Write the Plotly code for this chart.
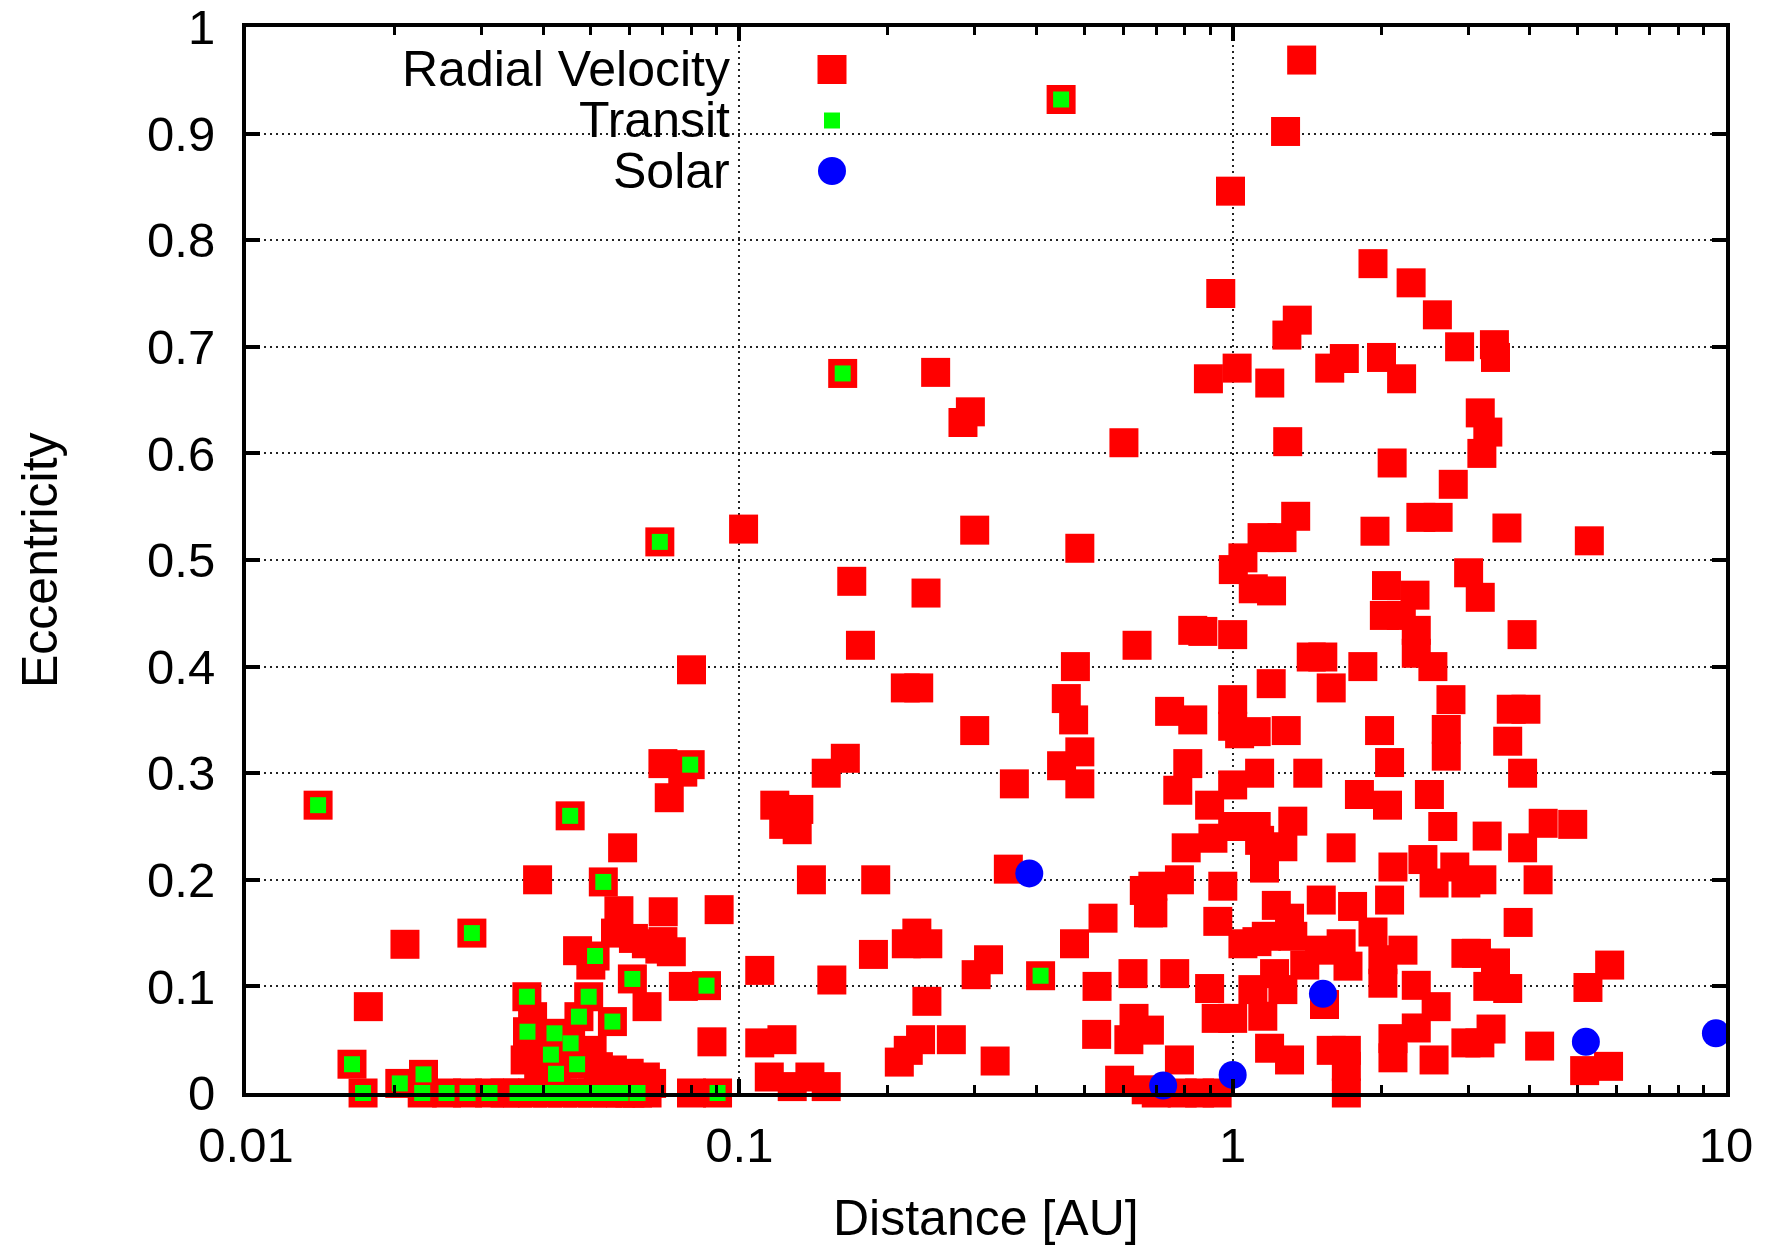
import plotly.graph_objects as go

# ---------------- data ----------------
rv_dist = [
    1.38, 1.28, 0.99, 0.449, 1.925, 2.30, 0.946, 2.60, 1.352, 1.288,
    2.884, 3.393, 3.41, 1.684, 1.573, 2.003, 2.20, 0.893, 1.021, 1.189,
    0.162, 0.250, 0.294, 0.284, 3.176, 3.29, 3.20, 1.293, 0.602, 2.105,
    2.80, 0.102, 0.300, 0.069, 0.490, 1.342, 1.147, 1.259, 1.943, 2.407,
    2.609, 3.597, 5.284, 1.003, 1.049, 3.008, 1.199, 1.101, 2.05, 2.342,
    3.176, 0.169, 0.239,
    # 0.1 - 0.7 AU
    0.176, 0.640, 0.480, 0.217, 0.231, 0.460, 0.476, 0.300, 0.490, 0.450,
    0.490, 0.361, 0.164, 0.150, 0.118, 0.132, 0.123, 0.131, 0.140, 0.189,
    0.351, 0.662, 0.675, 0.546, 0.478, 0.229, 0.218, 0.241, 0.187, 0.110,
    0.154, 0.320, 0.302, 0.408, 0.531, 0.628, 0.240, 0.110, 0.122, 0.233,
    0.220, 0.211, 0.269, 0.330, 0.530, 0.631, 0.616, 0.115, 0.139, 0.150,
    0.128, 0.590, 0.668,
    # 0.7 - 3 AU
    0.830, 0.870, 1.0, 2.197, 2.356, 2.356, 2.546, 2.03, 1.197, 1.443,
    1.523, 1.584, 1.836, 2.77, 0.745, 0.830, 1.0, 1.0, 1.033, 1.116,
    1.284, 1.985, 2.71, 2.71, 2.08, 0.811, 0.774, 1.0, 1.134, 1.42,
    1.807, 2.06, 2.505, 2.666, 0.898, 1.0, 1.116, 0.805, 0.912, 1.134,
    1.264, 1.324, 1.659, 1.16, 0.78, 0.955, 2.113, 2.43, 2.56, 2.82,
    2.97, 0.689, 0.689, 2.08, 1.75, 1.512, 1.226, 0.933, 1.304, 1.925,
    1.049, 1.17, 1.324, 1.50, 1.659, 2.214, 2.016, 2.97, 0.763, 0.898,
    1.216, 1.713, 2.016, 2.356, 1.099, 1.264, 1.535, 0.926, 1.0, 1.151,
    2.585, 2.356, 2.113, 1.188, 1.304, 1.584, 1.70, 1.70, 1.70, 2.113,
    2.56, 0.78, 2.97, 0.678, 0.79, 0.857, 0.93, 0.70, 1.12, 1.40,
    # 3 - 10 AU
    3.86, 3.67, 3.93, 3.61, 3.87, 3.28, 4.26, 4.89, 3.87, 3.2,
    4.16, 3.79, 3.12, 3.41, 3.29, 3.61, 5.81, 5.25, 3.34, 3.17,
    4.19, 5.17, 5.78,
    # below 0.1 AU
    0.014, 0.070, 0.0795, 0.0768, 0.0721, 0.0454, 0.058, 0.039, 0.053, 0.057,
    0.0701, 0.091, 0.0561, 0.061, 0.070, 0.0648, 0.069, 0.0728, 0.047, 0.051,
    0.050, 0.021, 0.0287, 0.0177, 0.0607, 0.065, 0.0858, 0.077, 0.088, 0.080,
    0.0371, 0.0381, 0.0372, 0.0422, 0.0415, 0.0469, 0.0425, 0.0473, 0.0495, 0.0455,
    0.0553, 0.0368, 0.0503, 0.0598, 0.0645, 0.0553, 0.0664, 0.0392, 0.0518, 0.0164,
    0.0205, 0.0229,
    0.01727, 0.02276, 0.0255, 0.02812, 0.03116, 0.0335, 0.03551, 0.03808, 0.04086, 0.04381,
    0.04699, 0.0504, 0.05405, 0.05742, 0.060, 0.06217, 0.065, 0.080, 0.09033,
]
rv_ecc = [
    0.969, 0.902, 0.846, 0.932, 0.778, 0.760, 0.750, 0.730, 0.725, 0.711,
    0.700, 0.702, 0.690, 0.689, 0.680, 0.690, 0.670, 0.670, 0.680, 0.666,
    0.675, 0.676, 0.639, 0.629, 0.638, 0.620, 0.600, 0.611, 0.610, 0.591,
    0.571, 0.529, 0.528, 0.517, 0.511, 0.541, 0.521, 0.521, 0.527, 0.540,
    0.540, 0.530, 0.518, 0.491, 0.502, 0.488, 0.471, 0.473, 0.476, 0.467,
    0.465, 0.480, 0.469,
    0.420, 0.420, 0.400, 0.380, 0.380, 0.370, 0.350, 0.340, 0.320, 0.307,
    0.290, 0.290, 0.314, 0.300, 0.270, 0.266, 0.252, 0.247, 0.200, 0.200,
    0.210, 0.190, 0.169, 0.164, 0.140, 0.150, 0.140, 0.140, 0.130, 0.115,
    0.106, 0.125, 0.111, 0.110, 0.100, 0.112, 0.086, 0.047, 0.050, 0.050,
    0.040, 0.029, 0.050, 0.030, 0.055, 0.070, 0.050, 0.015, 0.015, 0.006,
    0.006, 0.012, 0.003,
    0.434, 0.433, 0.430, 0.448, 0.434, 0.4125, 0.400, 0.448, 0.384, 0.409,
    0.409, 0.380, 0.400, 0.369, 0.358, 0.350, 0.369, 0.344, 0.337, 0.339,
    0.340, 0.340, 0.341, 0.316, 0.310, 0.309, 0.284, 0.289, 0.300, 0.300,
    0.280, 0.270, 0.280, 0.250, 0.270, 0.250, 0.250, 0.230, 0.239, 0.237,
    0.231, 0.255, 0.230, 0.211, 0.200, 0.194, 0.212, 0.219, 0.197, 0.212,
    0.197, 0.194, 0.169, 0.181, 0.175, 0.181, 0.176, 0.161, 0.164, 0.151,
    0.140, 0.147, 0.147, 0.134, 0.140, 0.134, 0.125, 0.131, 0.112, 0.098,
    0.112, 0.119, 0.103, 0.101, 0.097, 0.097, 0.083, 0.070, 0.070, 0.072,
    0.081, 0.061, 0.051, 0.042, 0.031, 0.040, 0.040, 0.025, 0.0, 0.033,
    0.031, 0.031, 0.047, 0.059, 0.0, 0.0, 0.0, 0.0, 0.142, 0.120,
    0.430, 0.360, 0.360, 0.330, 0.300, 0.241, 0.253, 0.252, 0.230, 0.200,
    0.200, 0.160, 0.131, 0.122, 0.100, 0.098, 0.120, 0.099, 0.060, 0.047,
    0.044, 0.021, 0.025,
    0.270, 0.309, 0.308, 0.301, 0.277, 0.260, 0.230, 0.200, 0.198, 0.171,
    0.170, 0.172, 0.150, 0.145, 0.142, 0.140, 0.135, 0.1325, 0.1335, 0.1285,
    0.120, 0.1395, 0.150, 0.081, 0.107, 0.081, 0.1007, 0.100, 0.048, 0.397,
    0.0903, 0.0716, 0.0575, 0.056, 0.036, 0.027, 0.018, 0.0716, 0.0903, 0.0466,
    0.067, 0.031, 0.040, 0.0185, 0.015, 0.0216, 0.009, 0.0185, 0.0247, 0.027,
    0.009, 0.0175,
    0.0, 0.0, 0.0, 0.0, 0.0, 0.0, 0.0, 0.0, 0.0, 0.0,
    0.0, 0.0, 0.0, 0.0, 0.0, 0.0, 0.0, 0.0, 0.0,
]

transit_dist = [
    0.449, 0.162, 0.069, 0.0795, 0.014, 0.0454, 0.053, 0.0287, 0.051, 0.0607,
    0.0858, 0.408, 0.0371, 0.0495, 0.0473, 0.0553, 0.0372, 0.0422, 0.0455, 0.0415,
    0.0469, 0.0425, 0.0164, 0.0229, 0.0205,
    0.01727, 0.02276, 0.0255, 0.02812, 0.03116, 0.03551, 0.03808, 0.04086, 0.04381, 0.04699,
    0.0504, 0.05405, 0.05742, 0.06217, 0.09033,
]
transit_ecc = [
    0.932, 0.675, 0.517, 0.308, 0.270, 0.260, 0.198, 0.150, 0.1285, 0.107,
    0.1007, 0.110, 0.0903, 0.0903, 0.0716, 0.067, 0.0575, 0.056, 0.0466, 0.036,
    0.027, 0.018, 0.027, 0.0175, 0.009,
    0.0, 0.0, 0.0, 0.0, 0.0, 0.0, 0.0, 0.0, 0.0, 0.0,
    0.0, 0.0, 0.0, 0.0, 0.0,
]

solar_names = ["Mercury", "Venus", "Earth", "Mars", "Jupiter", "Saturn"]
solar_dist = [0.387, 0.723, 1.0, 1.524, 5.20, 9.54]
solar_ecc = [0.206, 0.007, 0.017, 0.093, 0.048, 0.056]

legend_labels = ["Radial Velocity", "Transit", "Solar"]
x_tick_vals = [0.01, 0.1, 1, 10]
x_tick_text = ["0.01", "0.1", "1", "10"]
y_tick_vals = [0, 0.1, 0.2, 0.3, 0.4, 0.5, 0.6, 0.7, 0.8, 0.9, 1]
y_tick_text = ["0", "0.1", "0.2", "0.3", "0.4", "0.5", "0.6", "0.7", "0.8", "0.9", "1"]

# ---------------- style ----------------
FONT = "Liberation Sans, Arial, Helvetica, sans-serif"
RED = "#ff0000"
GREEN = "#00ff00"
BLUE = "#0000ff"
W, H = 1775, 1245
ML, MR, MT, MB = 246, 49, 27, 152
PW, PH = W - ML - MR, H - MT - MB

minor_x = [m * 10 ** k for k in (-2, -1, 0) for m in range(2, 10)]

fig = go.Figure()
fig.add_trace(go.Scatter(
    x=rv_dist, y=rv_ecc, mode="markers", name=legend_labels[0],
    marker=dict(symbol="square", size=29, color=RED, line=dict(width=0)),
    cliponaxis=False, showlegend=False, hoverinfo="x+y"))
fig.add_trace(go.Scatter(
    x=transit_dist, y=transit_ecc, mode="markers", name=legend_labels[1],
    marker=dict(symbol="square", size=16, color=GREEN, line=dict(width=0)),
    cliponaxis=False, showlegend=False, hoverinfo="x+y"))
fig.add_trace(go.Scatter(
    x=solar_dist, y=solar_ecc, mode="markers", name=legend_labels[2],
    text=solar_names,
    marker=dict(symbol="circle", size=28, color=BLUE, line=dict(width=0)),
    cliponaxis=False, showlegend=False))

axis_common = dict(
    showline=True, linewidth=4, linecolor="black", mirror="allticks",
    ticks="inside", ticklen=14, tickwidth=4, tickcolor="black",
    showgrid=True, gridcolor="#222222", gridwidth=1.5, griddash="2px,4px",
    zeroline=False, tickfont=dict(family=FONT, size=49, color="black"),
    layer="above traces", automargin=False,
)

fig.update_xaxes(
    type="log", range=[-2, 1], tickmode="array",
    tickvals=x_tick_vals, ticktext=x_tick_text, ticklabelstandoff=6,
    minor=dict(tickmode="array", tickvals=minor_x, ticks="inside", ticklen=8,
               tickwidth=3, tickcolor="black", showgrid=False),
    **axis_common)
fig.update_yaxes(
    range=[0, 1], tickmode="array", tickvals=y_tick_vals, ticktext=y_tick_text,
    ticklabelstandoff=17, **axis_common)

# key: white box hiding the grid, texts right aligned, samples to the right
shapes = [dict(type="rect", xref="paper", yref="paper",
               x0=(272 - ML) / PW, x1=(932 - ML) / PW,
               y0=(H - MB - 199) / PH, y1=1.0,
               fillcolor="white", line=dict(width=0), layer="between")]
annotations = []
row_y = [69.5, 120.5, 171]
text_right = (732 - ML) / PW
sample_x = (832 - ML) / PW
samples = [("rect", 29, RED), ("rect", 16, GREEN), ("circle", 28, BLUE)]
for label, yy, (kind, sz, col) in zip(legend_labels, row_y, samples):
    py = (H - MB - yy) / PH
    annotations.append(dict(
        text=label, xref="paper", yref="paper", x=text_right, y=py,
        xanchor="right", yanchor="middle", showarrow=False,
        font=dict(family=FONT, size=50, color="black")))
    shapes.append(dict(
        type=kind, xref="paper", yref="paper", xsizemode="pixel", ysizemode="pixel",
        xanchor=sample_x, yanchor=py, x0=-sz / 2, x1=sz / 2, y0=-sz / 2, y1=sz / 2,
        fillcolor=col, line=dict(width=0), layer="above"))

annotations.append(dict(
    text="Distance [AU]", xref="paper", yref="paper", x=0.5, y=-(1218 - (H - MB)) / PH,
    xanchor="center", yanchor="middle", showarrow=False,
    font=dict(family=FONT, size=50, color="black")))
annotations.append(dict(
    text="Eccentricity", xref="paper", yref="paper", x=(40 - ML) / PW, y=0.5,
    xanchor="center", yanchor="middle", textangle=-90, showarrow=False,
    font=dict(family=FONT, size=50, color="black")))

fig.update_layout(
    width=W, height=H,
    margin=dict(l=ML, r=MR, t=MT, b=MB, pad=0, autoexpand=False),
    paper_bgcolor="white", plot_bgcolor="white",
    showlegend=False, shapes=shapes, annotations=annotations,
    font=dict(family=FONT, color="black"),
)

fig.write_html("out.html")
